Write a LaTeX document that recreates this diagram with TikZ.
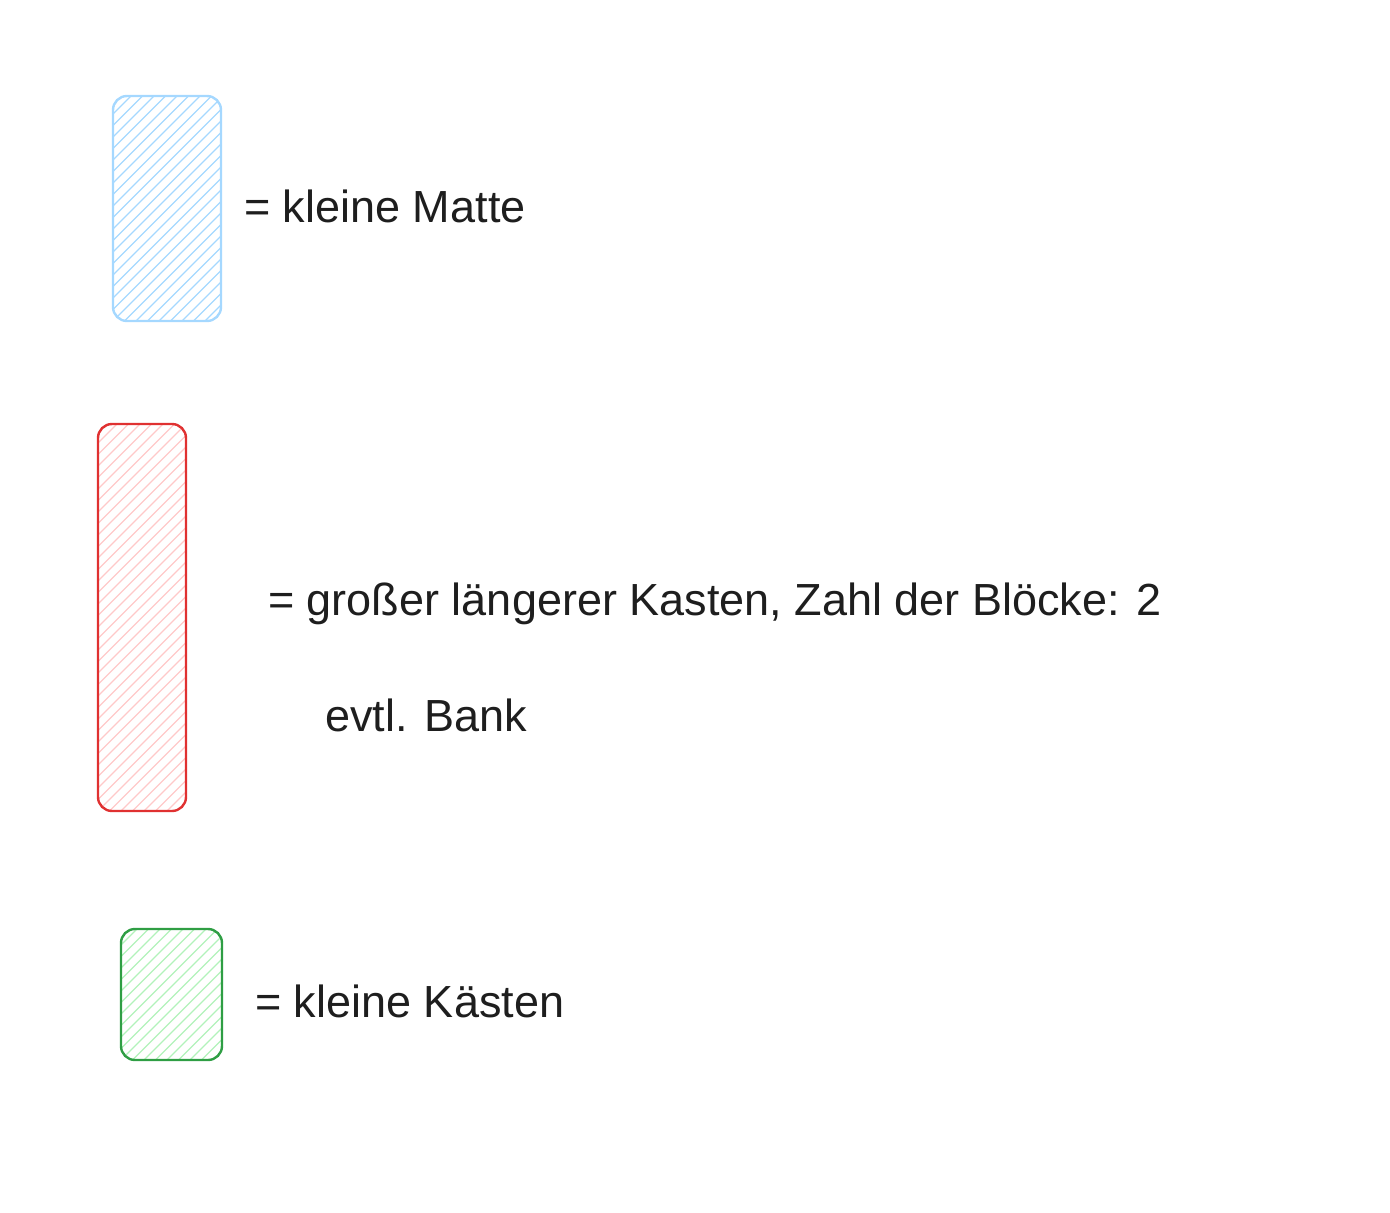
\documentclass[tikz,border=0pt]{standalone}
\usepackage{fontspec}
\setmainfont{Liberation Sans}
\definecolor{bluestroke}{HTML}{A5D8FF}
\definecolor{bluefill}{HTML}{A5D8FF}
\definecolor{redstroke}{HTML}{E03131}
\definecolor{redfill}{HTML}{FFC9C9}
\definecolor{greenstroke}{HTML}{2F9E44}
\definecolor{greenfill}{HTML}{B2F2BB}
\definecolor{inkcol}{HTML}{1E1E1E}
\tikzset{
  hatchbox/.style n args={2}{draw=#1, line width=2.4pt, rounded corners=14pt, inner sep=0pt,
    path picture={\foreach \i in {-40,...,12}{
      \draw[#2, line width=1.2pt] ([xshift=\i*11.5pt]path picture bounding box.south west) -- ++(450pt,450pt);}}},
  label/.style={anchor=west, inner sep=0pt, text=inkcol, font=\fontsize{45}{54}\selectfont}
}
\begin{document}
\begin{tikzpicture}[x=1pt,y=1pt]
\useasboundingbox (0,0) rectangle (1390,-1213);
\node[hatchbox={bluestroke}{bluefill}, minimum width=108pt, minimum height=225pt] (matte) at (167,-208.5) {};
\node[hatchbox={redstroke}{redfill}, minimum width=88pt, minimum height=387pt] (kasten) at (142,-617.5) {};
\node[hatchbox={greenstroke}{greenfill}, minimum width=101pt, minimum height=131pt] (klein) at (171.5,-994.5) {};
\node[label] (t1) at (244,-206) {= kleine Matte};
\node[label] (t2) at (268,-604) {= großer längerer Kasten, Zahl der Blöcke: 2};
\node[label] (t3) at (325,-715) {evtl. Bank};
\node[label] (t4) at (255,-1001) {= kleine Kästen};
\end{tikzpicture}
\end{document}
